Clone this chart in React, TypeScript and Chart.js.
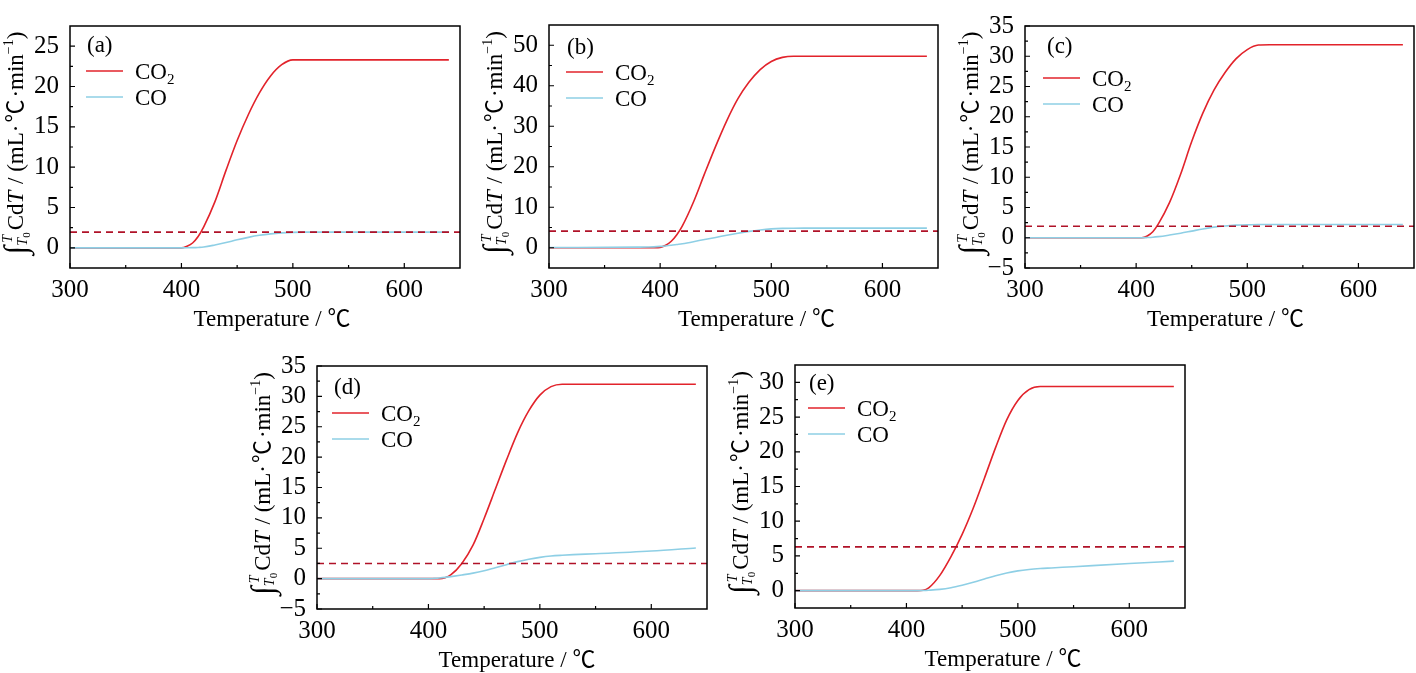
import React, { useEffect, useRef } from 'react';
import { Chart, registerables } from 'chart.js';

Chart.register(...registerables);

const FONT = '"Times New Roman", "Liberation Serif", "Noto Sans CJK SC", serif';

// ---------- data ----------
const temperature = [300, 380, 390, 400, 405, 410, 415, 420, 430, 440, 450, 460, 470, 480, 490, 500, 510, 520, 530, 550, 600, 640];

const co2A = [0, 0, 0, 0, 0.2, 0.6, 1.4, 2.6, 5.7, 9.6, 13.3, 16.5, 19.2, 21.3, 22.7, 23.3, 23.3, 23.3, 23.3, 23.3, 23.3, 23.3];
const coA = [0, 0, 0, 0, 0.005, 0.02, 0.05, 0.1, 0.35, 0.65, 1.0, 1.3, 1.55, 1.73, 1.85, 1.92, 1.95, 1.95, 1.95, 1.95, 1.95, 1.95];

const co2B = [0, 0, 0, 0.1, 0.6, 1.6, 3.2, 5.4, 11.3, 18.3, 25.1, 31.4, 36.8, 40.9, 44.0, 46.0, 47.0, 47.3, 47.3, 47.3, 47.3, 47.3];
const coB = [0.05, 0.15, 0.2, 0.35, 0.45, 0.6, 0.8, 1.0, 1.5, 2.05, 2.55, 3.1, 3.6, 4.05, 4.4, 4.65, 4.78, 4.83, 4.85, 4.85, 4.85, 4.85];

const co2C = [0, 0, 0, 0, 0, 0.3, 1.0, 2.3, 5.8, 10.5, 15.9, 20.6, 24.4, 27.3, 29.6, 31.1, 31.85, 31.9, 31.9, 31.9, 31.9, 31.9];
const coC = [0, 0, 0, 0, 0, 0.03, 0.08, 0.18, 0.45, 0.75, 1.1, 1.45, 1.75, 1.95, 2.08, 2.16, 2.2, 2.2, 2.2, 2.2, 2.2, 2.2];

const co2D = [0, 0, 0, 0, 0, 0, 0.15, 0.6, 2.5, 5.5, 9.9, 14.7, 19.5, 24.0, 27.6, 30.2, 31.6, 32.0, 32.0, 32.0, 32.0, 32.0];
const coD = [0, 0, 0, 0, 0.04, 0.1, 0.2, 0.33, 0.6, 0.9, 1.3, 1.8, 2.3, 2.8, 3.2, 3.5, 3.72, 3.85, 3.95, 4.1, 4.55, 5.05];

const co2E = [0, 0, 0, 0, 0, 0, 0.05, 0.4, 2.2, 4.9, 8.1, 11.9, 16.2, 20.6, 24.6, 27.4, 28.95, 29.4, 29.4, 29.4, 29.4, 29.4];
const coE = [0, 0, 0, 0, 0, 0, 0.02, 0.06, 0.18, 0.42, 0.78, 1.2, 1.68, 2.15, 2.55, 2.85, 3.05, 3.18, 3.27, 3.45, 3.9, 4.25];

const thresholdA = 1.95;
const thresholdB = 4.1;
const thresholdC = 1.9;
const thresholdD = 2.5;
const thresholdE = 6.3;
const thresholdSpan = [300, 650];

const xTicks = [300, 400, 500, 600];
const xMinorTicks = [350, 450, 550];

const yTicksA = [0, 5, 10, 15, 20, 25];
const yMinorA = [2.5, 7.5, 12.5, 17.5, 22.5];
const yTicksB = [0, 10, 20, 30, 40, 50];
const yMinorB = [5, 15, 25, 35, 45];
const yTicksC = [-5, 0, 5, 10, 15, 20, 25, 30, 35];
const yMinorC = [-2.5, 2.5, 7.5, 12.5, 17.5, 22.5, 27.5, 32.5];
const yTicksD = [-5, 0, 5, 10, 15, 20, 25, 30, 35];
const yMinorD = [-2.5, 2.5, 7.5, 12.5, 17.5, 22.5, 27.5, 32.5];
const yTicksE = [0, 5, 10, 15, 20, 25, 30];
const yMinorE = [2.5, 7.5, 12.5, 17.5, 22.5, 27.5];

const seriesNames = ['CO2', 'CO'];
const xTitle = 'Temperature / ℃';

// ---------- styles ----------
const RED = '#e2232b';
const BLUE = '#8ecfe5';
const DASH = '#b01228';
const TICK_SIZE = 25;
const TEXT_SIZE = 23;

type PanelCfg = {
  label: string;
  co2: number[];
  co: number[];
  threshold: number;
  yTicks: number[];
  yMinor: number[];
  yMin: number;
  yMax: number;
  box: { left: number; top: number; width: number; height: number };
  titleShift: number;
  legend: { dx: number; dy: number };
  tag: { dx: number; dy: number };
};

const panels: PanelCfg[] = [
  { label: '(a)', co2: co2A, co: coA, threshold: thresholdA, yTicks: yTicksA, yMinor: yMinorA, yMin: -2.5, yMax: 27.5,
    box: { left: 70, top: 7, width: 390, height: 261 }, titleShift: 7, legend: { dx: 16, dy: 45 }, tag: { dx: 17, dy: 20 } },
  { label: '(b)', co2: co2B, co: coB, threshold: thresholdB, yTicks: yTicksB, yMinor: yMinorB, yMin: -5, yMax: 55,
    box: { left: 549, top: 6, width: 389, height: 262 }, titleShift: 13, legend: { dx: 17, dy: 47 }, tag: { dx: 18, dy: 23 } },
  { label: '(c)', co2: co2C, co: coC, threshold: thresholdC, yTicks: yTicksC, yMinor: yMinorC, yMin: -5, yMax: 35,
    box: { left: 1025, top: 7, width: 389, height: 261 }, titleShift: 6, legend: { dx: 18, dy: 52 }, tag: { dx: 22, dy: 21 } },
  { label: '(d)', co2: co2D, co: coD, threshold: thresholdD, yTicks: yTicksD, yMinor: yMinorD, yMin: -5, yMax: 35,
    box: { left: 317, top: 347, width: 390, height: 262 }, titleShift: 5, legend: { dx: 15, dy: 47 }, tag: { dx: 17, dy: 22 } },
  { label: '(e)', co2: co2E, co: coE, threshold: thresholdE, yTicks: yTicksE, yMinor: yMinorE, yMin: -2.5, yMax: 32.5,
    box: { left: 795, top: 346, width: 390, height: 262 }, titleShift: 13, legend: { dx: 13, dy: 43 }, tag: { dx: 14, dy: 19 } },
];

const AXIS_W = 70;
const PAD_TOP = 7;
const PAD_RIGHT = 2;
const X_AXIS_H = 66;

function drawYTitle(ctx: CanvasRenderingContext2D, x: number, cy: number) {
  type Piece = { t: string; size: number; italic?: boolean; dy?: number; dx?: number; noAdvance?: boolean };
  const pieces: Piece[] = [
    { t: '∫', size: 32, italic: true, dy: 3 },
    { t: 'T', size: 14, italic: true, dy: -11, dx: 3, noAdvance: true },
    { t: 'T', size: 14, italic: true, dy: 4, dx: 0 },
    { t: '0', size: 11, dy: 7 },
    { t: 'Cd', size: TEXT_SIZE, dx: 2 },
    { t: 'T', size: TEXT_SIZE, italic: true },
    { t: ' / (mL·', size: TEXT_SIZE, dx: 1 },
    { t: '℃', size: TEXT_SIZE, dx: 2 },
    { t: '·min', size: TEXT_SIZE, dx: 2 },
    { t: '−1', size: 14, dy: -10 },
    { t: ')', size: TEXT_SIZE },
  ];
  const font = (p: Piece) => `${p.italic ? 'italic ' : ''}${p.size}px ${FONT}`;
  let total = 0;
  for (const p of pieces) {
    ctx.font = font(p);
    if (!p.noAdvance) total += ctx.measureText(p.t).width + (p.dx || 0);
  }
  ctx.save();
  ctx.translate(x, cy);
  ctx.rotate(-Math.PI / 2);
  ctx.textAlign = 'left';
  ctx.textBaseline = 'alphabetic';
  ctx.fillStyle = '#000';
  let cx = -total / 2;
  for (const p of pieces) {
    ctx.font = font(p);
    ctx.fillText(p.t, cx + (p.dx || 0), p.dy || 0);
    if (!p.noAdvance) cx += ctx.measureText(p.t).width + (p.dx || 0);
  }
  ctx.restore();
}

const decorPlugin = {
  id: 'decor',
  afterDraw(chart: any) {
    const cfg: PanelCfg = chart.options.plugins.decor.cfg;
    const { ctx, chartArea: a, scales } = chart;
    const xs = scales.x;
    const ys = scales.y;
    ctx.save();
    // frame
    ctx.strokeStyle = '#000';
    ctx.lineWidth = 1.5;
    ctx.strokeRect(a.left, a.top, a.right - a.left, a.bottom - a.top);
    // inward ticks
    ctx.lineWidth = 1.2;
    ctx.beginPath();
    for (const v of xTicks) {
      const px = xs.getPixelForValue(v);
      ctx.moveTo(px, a.bottom);
      ctx.lineTo(px, a.bottom - 5);
    }
    for (const v of xMinorTicks) {
      const px = xs.getPixelForValue(v);
      ctx.moveTo(px, a.bottom);
      ctx.lineTo(px, a.bottom - 3);
    }
    for (const v of cfg.yTicks) {
      const py = ys.getPixelForValue(v);
      ctx.moveTo(a.left, py);
      ctx.lineTo(a.left + 5, py);
    }
    for (const v of cfg.yMinor) {
      const py = ys.getPixelForValue(v);
      ctx.moveTo(a.left, py);
      ctx.lineTo(a.left + 3, py);
    }
    ctx.stroke();

    // panel tag
    ctx.fillStyle = '#000';
    ctx.font = `${TEXT_SIZE}px ${FONT}`;
    ctx.textAlign = 'left';
    ctx.textBaseline = 'middle';
    ctx.fillText(cfg.label, a.left + cfg.tag.dx, a.top + cfg.tag.dy);

    // legend
    const colors = [RED, BLUE];
    ctx.textBaseline = 'alphabetic';
    seriesNames.forEach((name, i) => {
      const ly = a.top + cfg.legend.dy + i * 26;
      const lx = a.left + cfg.legend.dx;
      ctx.strokeStyle = colors[i];
      ctx.lineWidth = 1.6;
      ctx.beginPath();
      ctx.moveTo(lx, ly);
      ctx.lineTo(lx + 37, ly);
      ctx.stroke();
      ctx.fillStyle = '#000';
      ctx.font = `${TEXT_SIZE}px ${FONT}`;
      const tx = lx + 49;
      const ty = ly + 8;
      if (name === 'CO2') {
        ctx.fillText('CO', tx, ty);
        const w = ctx.measureText('CO').width;
        ctx.font = `15px ${FONT}`;
        ctx.fillText('2', tx + w, ty + 5);
      } else {
        ctx.fillText(name, tx, ty);
      }
    });

    // x title
    ctx.font = `${TEXT_SIZE}px ${FONT}`;
    ctx.textAlign = 'center';
    ctx.textBaseline = 'alphabetic';
    ctx.fillText(xTitle, (a.left + a.right) / 2 + cfg.titleShift, a.bottom + 58);

    // y title
    drawYTitle(ctx, a.left - 47, (a.top + a.bottom) / 2 - 4);
    ctx.restore();
  },
};

function Panel({ cfg }: { cfg: PanelCfg }) {
  const ref = useRef<HTMLCanvasElement>(null);
  const W = AXIS_W + cfg.box.width + PAD_RIGHT;
  const H = PAD_TOP + cfg.box.height + X_AXIS_H;
  useEffect(() => {
    const canvas = ref.current;
    if (!canvas) return;
    const chart = new Chart(canvas, {
      type: 'line',
      data: {
        datasets: [
          {
            label: 'threshold',
            data: thresholdSpan.map((x) => ({ x, y: cfg.threshold })),
            borderColor: DASH,
            borderWidth: 1.6,
            borderDash: [7, 5],
            pointRadius: 0,
          },
          {
            label: 'CO',
            data: temperature.map((t, i) => ({ x: t, y: cfg.co[i] })),
            borderColor: BLUE,
            borderWidth: 1.6,
            pointRadius: 0,
            cubicInterpolationMode: 'monotone',
          },
          {
            label: 'CO2',
            data: temperature.map((t, i) => ({ x: t, y: cfg.co2[i] })),
            borderColor: RED,
            borderWidth: 1.6,
            pointRadius: 0,
            cubicInterpolationMode: 'monotone',
          },
        ],
      },
      options: {
        animation: false,
        responsive: false,
        layout: { padding: { top: PAD_TOP, right: PAD_RIGHT, left: 0, bottom: 0 } },
        plugins: {
          legend: { display: false },
          tooltip: { enabled: false },
          decor: { cfg },
        } as any,
        scales: {
          x: {
            type: 'linear',
            min: 300,
            max: 650,
            grid: { display: false, drawTicks: false },
            border: { display: false },
            afterBuildTicks: (scale: any) => {
              scale.ticks = xTicks.map((v) => ({ value: v }));
            },
            afterFit: (scale: any) => {
              scale.height = X_AXIS_H;
            },
            ticks: {
              padding: 7,
              color: '#000',
              maxRotation: 0,
              autoSkip: false,
              font: { family: FONT, size: TICK_SIZE },
            },
          },
          y: {
            type: 'linear',
            min: cfg.yMin,
            max: cfg.yMax,
            grid: { display: false, drawTicks: false },
            border: { display: false },
            afterBuildTicks: (scale: any) => {
              scale.ticks = cfg.yTicks.map((v) => ({ value: v }));
            },
            afterFit: (scale: any) => {
              scale.width = AXIS_W;
            },
            ticks: {
              padding: 11,
              color: '#000',
              autoSkip: false,
              font: { family: FONT, size: TICK_SIZE },
              callback: (v: any) => (Number(v) < 0 ? '−' + Math.abs(Number(v)) : String(v)),
            },
          },
        },
      },
      plugins: [decorPlugin],
    } as any);
    return () => chart.destroy();
  }, [cfg]);
  return (
    <canvas
      ref={ref}
      width={W}
      height={H}
      style={{
        position: 'absolute',
        left: cfg.box.left - AXIS_W,
        top: cfg.box.top - PAD_TOP,
        width: W,
        height: H,
      }}
    />
  );
}

export default function App() {
  return (
    <div
      style={{
        position: 'absolute',
        left: 0,
        top: 0,
        width: 1416,
        height: 673,
        overflow: 'hidden',
        background: '#fff',
      }}
    >
      {panels.map((p) => (
        <Panel key={p.label} cfg={p} />
      ))}
    </div>
  );
}
